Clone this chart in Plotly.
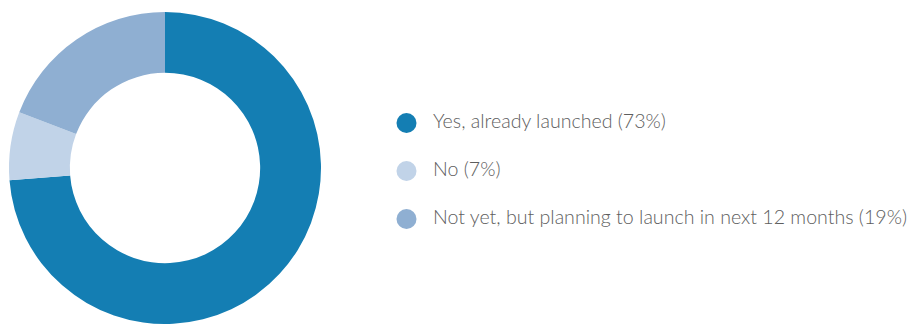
import plotly.graph_objects as go

labels = ["Yes, already launched", "No", "Not yet, but planning to launch in next 12 months"]
values = [73, 7, 19]
colors = ["#147eb3", "#c1d3e8", "#8fafd2"]

W, H = 910, 324

fig = go.Figure()
fig.add_trace(go.Pie(
    labels=labels,
    values=values,
    hole=0.61,
    sort=False,
    direction="clockwise",
    rotation=0,
    marker=dict(colors=colors, line=dict(width=0)),
    textinfo="none",
    hoverinfo="label+percent",
    showlegend=False,
    domain=dict(x=[9 / W, 321 / W], y=[0, 1]),
))

# legend: circle markers plus text, placed on hidden pixel-scaled axes
legend_x = 406.5
text_x = 433
legend_y = [123, 171, 219]
fig.add_trace(go.Scatter(
    x=[legend_x] * len(labels),
    y=legend_y,
    mode="markers",
    marker=dict(size=20, color=colors, line=dict(width=0)),
    hoverinfo="skip",
    showlegend=False,
    cliponaxis=False,
))
fig.add_trace(go.Scatter(
    x=[text_x] * len(labels),
    y=legend_y,
    mode="text",
    text=[f"{lab} ({val}%)" for lab, val in zip(labels, values)],
    textposition="middle right",
    textfont=dict(family="Lato", size=19.6, color="#5e5e5e", weight=300),
    hoverinfo="skip",
    showlegend=False,
    cliponaxis=False,
))

fig.update_layout(
    width=W, height=H,
    margin=dict(l=0, r=0, t=12, b=0),
    paper_bgcolor="white",
    plot_bgcolor="rgba(0,0,0,0)",
    xaxis=dict(range=[0, W], visible=False, fixedrange=True),
    yaxis=dict(range=[H, 12], visible=False, fixedrange=True),
)

fig.write_html("out.html")
